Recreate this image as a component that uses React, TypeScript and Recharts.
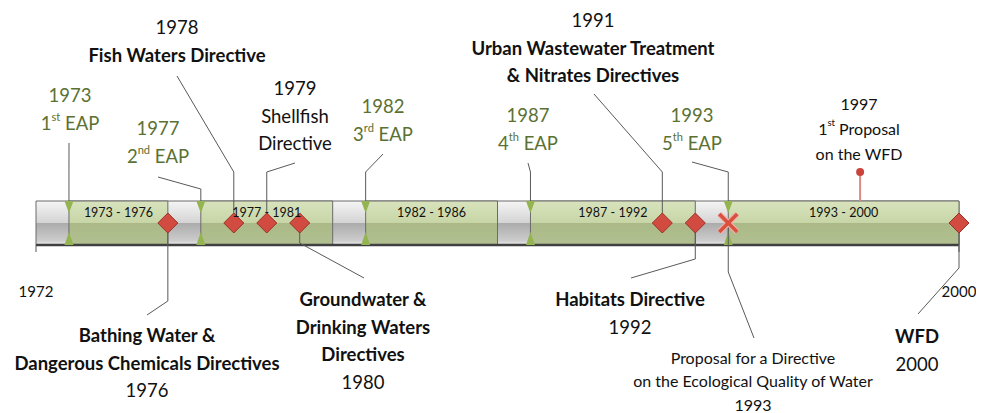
import React from 'react';
import { ComposedChart, XAxis, YAxis, Scatter, ReferenceArea } from 'recharts';

// periods shown as green blocks on the timeline
const periodStarts = [1973, 1977, 1982, 1987, 1993];
const periodEnds = [1976, 1981, 1986, 1992, 2000];

// Environmental Action Programmes
const eapYears = [1973, 1977, 1982, 1987, 1993];
const eapNames = ['1st EAP', '2nd EAP', '3rd EAP', '4th EAP', '5th EAP'];

// directives (red diamonds)
const directiveYears = [1976, 1978, 1979, 1980, 1991, 1992, 2000];
const directiveNames = [
  'Bathing Water &\nDangerous Chemicals Directives',
  'Fish Waters Directive',
  'Shellfish\nDirective',
  'Groundwater &\nDrinking Waters\nDirectives',
  'Urban Wastewater Treatment\n& Nitrates Directives',
  'Habitats Directive',
  'WFD',
];

// proposals
const proposalYears = [1993, 1997];
const proposalNames = ['Proposal for a Directive\non the Ecological Quality of Water', '1st Proposal\non the WFD'];

const axisTicks = [1972, 2000];

// label placement in px inside the svg: text (tx, ty), leader start (lx, ly), leader elbow y (ey)
const eapLayout = [
  { tx: 62, ty: 87, lx: 61, ly: 135, ey: 164 },
  { tx: 150, ty: 120, lx: 150, ly: 169, ey: 181 },
  { tx: 375, ty: 98, lx: 375, ly: 146, ey: 164 },
  { tx: 520, ty: 107, lx: 520, ly: 155, ey: 164 },
  { tx: 684, ty: 107, lx: 684, ly: 154, ey: 164 },
];
const directiveLayout = [
  { below: true, bold: true, tx: 139, ty: 327, lx: 139, ly: 307, ey: 293 },
  { below: false, bold: true, tx: 169, ty: 19, lx: 169, ly: 68, ey: 164 },
  { below: false, bold: false, tx: 287, ty: 80, lx: 287, ly: 155, ey: 164 },
  { below: true, bold: true, tx: 355, ty: 291, lx: 356, ly: 270, ey: 235 },
  { below: false, bold: true, tx: 585, ty: 12, lx: 586, ly: 86, ey: 164 },
  { below: true, bold: true, tx: 622, ty: 291, lx: 623, ly: 270, ey: 251 },
  { below: true, bold: true, tx: 909, ty: 328, lx: 910, ly: 306, ey: 260 },
];
const proposalLayout = [
  { below: true, tx: 745, ty: 349, lx: 746, ly: 330, ey: 264 },
  { below: false, tx: 851, ty: 95, lx: 851, ly: 164, ey: 164 },
];

const FONT = 'Lato, "Open Sans", sans-serif';
const GREEN_TEXT = '#5b7133';
const TEXT = '#111111';
const LEADER = '#595959';
const BIG = 18.5;
const SMALL = 16;

type LineSpec = { t: string; b?: boolean };

function renderLine(t: string, size: number) {
  const m = t.match(/^(\d)(st|nd|rd|th)( .*)$/);
  if (!m) return t;
  return [
    <tspan key="a">{m[1]}</tspan>,
    <tspan key="b" fontSize={size * 0.6} dy={-size * 0.4}>{m[2]}</tspan>,
    <tspan key="c" dy={size * 0.4}>{m[3]}</tspan>,
  ];
}

function Lines({ x, y, lines, size, gap, color }: { x: number; y: number; lines: LineSpec[]; size: number; gap: number; color: string }) {
  return (
    <g>
      {lines.map((ln, i) => (
        <text
          key={i}
          x={x}
          y={y + i * gap}
          textAnchor="middle"
          dominantBaseline="central"
          fontSize={size}
          fontWeight={ln.b ? 700 : 400}
          fill={color}
          style={{ whiteSpace: 'pre' }}
        >
          {renderLine(ln.t, size)}
        </text>
      ))}
    </g>
  );
}

const EapTop = (props: any) => {
  const { cx, cy, payload } = props;
  const L = eapLayout[payload.i];
  return (
    <g>
      <polyline points={`${L.lx},${L.ly} ${cx},${L.ey} ${cx},${cy}`} fill="none" stroke={LEADER} strokeWidth={1} />
      <polygon points={`${cx - 4.5},${cy} ${cx + 4.5},${cy} ${cx},${cy + 12}`} fill="#93b450" />
      <Lines
        x={L.tx}
        y={L.ty}
        lines={[{ t: String(payload.year) }, { t: payload.name }]}
        size={BIG}
        gap={28}
        color={GREEN_TEXT}
      />
    </g>
  );
};

const EapBottom = (props: any) => {
  const { cx, cy } = props;
  return <polygon points={`${cx - 4.5},${cy} ${cx + 4.5},${cy} ${cx},${cy - 13}`} fill="#93b450" />;
};

const DirectiveMark = (props: any) => {
  const { cx, cy, payload } = props;
  const L = directiveLayout[payload.i];
  const nameLines: LineSpec[] = payload.name.split('\n').map((t: string) => ({ t, b: L.bold }));
  const lines = L.below ? [...nameLines, { t: String(payload.year) }] : [{ t: String(payload.year) }, ...nameLines];
  const r = 10;
  return (
    <g>
      <polyline points={`${cx},${cy} ${cx},${L.ey} ${L.lx},${L.ly}`} fill="none" stroke={LEADER} strokeWidth={1} />
      <polygon
        points={`${cx},${cy - r} ${cx + r},${cy} ${cx},${cy + r} ${cx - r},${cy}`}
        fill="#d24b40"
        stroke="#9c3128"
        strokeWidth={1}
      />
      <Lines x={L.tx} y={L.ty} lines={lines} size={BIG} gap={27.5} color={TEXT} />
    </g>
  );
};

const ProposalMark = (props: any) => {
  const { cx, cy, payload } = props;
  const L = proposalLayout[payload.i];
  const nameLines: LineSpec[] = payload.name.split('\n').map((t: string) => ({ t }));
  if (L.below) {
    const s = 9;
    return (
      <g>
        <polyline points={`${cx},${cy} ${cx},${L.ey} ${L.lx},${L.ly}`} fill="none" stroke={LEADER} strokeWidth={1} />
        <g strokeLinecap="butt">
          <line x1={cx - s} y1={cy - s} x2={cx + s} y2={cy + s} stroke="#f1b3aa" strokeWidth={6} />
          <line x1={cx - s} y1={cy + s} x2={cx + s} y2={cy - s} stroke="#f1b3aa" strokeWidth={6} />
          <line x1={cx - s} y1={cy - s} x2={cx + s} y2={cy + s} stroke="#d9503f" strokeWidth={3.5} />
          <line x1={cx - s} y1={cy + s} x2={cx + s} y2={cy - s} stroke="#d9503f" strokeWidth={3.5} />
        </g>
        <Lines x={L.tx} y={L.ty} lines={[...nameLines, { t: String(payload.year) }]} size={SMALL} gap={23.5} color={TEXT} />
      </g>
    );
  }
  return (
    <g>
      <line x1={cx} y1={cy} x2={cx} y2={L.ey} stroke="#dc8a84" strokeWidth={2} />
      <circle cx={cx} cy={L.ey} r={4} fill="#c9433b" />
      <Lines x={L.tx} y={L.ty} lines={[{ t: String(payload.year) }, ...nameLines]} size={SMALL} gap={25} color={TEXT} />
    </g>
  );
};

const AxisTick = (props: any) => {
  const { x, y, payload } = props;
  return (
    <text x={x} y={y + 37} textAnchor="middle" dominantBaseline="central" fontSize={15} fill={TEXT} fontFamily={FONT}>
      {payload.value}
    </text>
  );
};

export default function App() {
  const eapData = eapYears.map((year, i) => ({ year, level: 2, i, name: eapNames[i] }));
  const eapBottomData = eapYears.map((year, i) => ({ year, level: 0, i }));
  const directiveData = directiveYears.map((year, i) => ({ year, level: 1, i, name: directiveNames[i] }));
  const proposalData = proposalYears.map((year, i) => ({ year, level: i === 0 ? 1 : 2, i, name: proposalNames[i] }));

  return (
    <div style={{ width: 968, height: 405, fontFamily: FONT }}>
      <ComposedChart width={968} height={405} margin={{ top: 193, right: 17, bottom: 108, left: 28 }}>
        <defs>
          <linearGradient id="greenGrad" x1="0" y1="0" x2="0" y2="1">
            <stop offset="0%" stopColor="#d8e3bd" />
            <stop offset="50%" stopColor="#c7d5a6" />
            <stop offset="50%" stopColor="#aab987" />
            <stop offset="100%" stopColor="#b2c091" />
          </linearGradient>
          <linearGradient id="grayGrad" x1="0" y1="0" x2="0" y2="1">
            <stop offset="0%" stopColor="#f5f5f5" />
            <stop offset="50%" stopColor="#d4d4d4" />
            <stop offset="50%" stopColor="#ababab" />
            <stop offset="90%" stopColor="#cccccc" />
            <stop offset="100%" stopColor="#eeeeee" />
          </linearGradient>
        </defs>
        <XAxis
          dataKey="year"
          type="number"
          domain={[1972, 2000]}
          ticks={axisTicks}
          interval={0}
          height={60}
          tickSize={7}
          tickLine={{ stroke: '#555555' }}
          axisLine={{ stroke: '#404040', strokeWidth: 2.5 }}
          tick={<AxisTick />}
        />
        <YAxis dataKey="level" type="number" domain={[0, 2]} hide />
        <ReferenceArea x1={1972} x2={2000} y1={0} y2={2} fill="url(#grayGrad)" fillOpacity={1} stroke="#6b6b6b" strokeWidth={1} />
        {periodStarts.map((s, i) => (
          <ReferenceArea
            key={s}
            x1={s}
            x2={periodEnds[i]}
            y1={0}
            y2={2}
            fill="url(#greenGrad)"
            fillOpacity={1}
            stroke="#6b6b6b"
            strokeWidth={1}
            label={{ value: `${s} - ${periodEnds[i]}`, position: 'insideTop', offset: 7, fontSize: 12.5, fill: TEXT }}
          />
        ))}
        <Scatter data={eapBottomData} dataKey="level" shape={EapBottom} isAnimationActive={false} />
        <Scatter data={eapData} dataKey="level" shape={EapTop} isAnimationActive={false} />
        <Scatter data={proposalData} dataKey="level" shape={ProposalMark} isAnimationActive={false} />
        <Scatter data={directiveData} dataKey="level" shape={DirectiveMark} isAnimationActive={false} />
      </ComposedChart>
    </div>
  );
}
